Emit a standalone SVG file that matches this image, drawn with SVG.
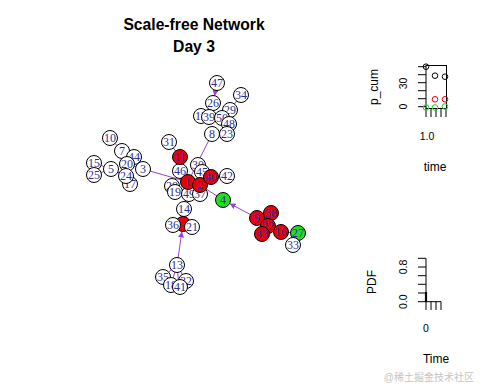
<svg xmlns="http://www.w3.org/2000/svg" width="480" height="384" viewBox="0 0 480 384">
<style>
.t{font-family:"Liberation Sans",Arial,sans-serif;fill:#000}
.ttl{font-weight:bold;font-size:15.7px;text-anchor:middle}
.ax{font-size:12px;text-anchor:middle}
.tk{font-size:10.5px;text-anchor:middle}
.e{stroke:#9b3fd6;stroke-width:1;fill:none}
.n circle{stroke:#000;stroke-width:1}
.w{fill:#fff}
.r{fill:#e8000b}
.g{fill:#22dd22}
.lb{font-family:"Liberation Serif","Times New Roman",serif;font-size:12px;fill:#2f2f9a;text-anchor:middle;dominant-baseline:central}
.k{stroke:#000;stroke-width:1;fill:none}
</style>
<defs>
<marker id="arr" markerUnits="userSpaceOnUse" markerWidth="8" markerHeight="8" refX="6" refY="3" orient="auto">
<path d="M0,0 L6,3 L0,6 z" fill="#9b3fd6"/>
</marker>
</defs>
<rect width="480" height="384" fill="#fff"/>
<text class="t ttl" x="194" y="29.5">Scale-free Network</text>
<text class="t ttl" x="194" y="51.5">Day 3</text>

<g id="edges">
<line class="e" x1="215.5" y1="90.4" x2="214.5" y2="96" marker-end="url(#arr)"/>
<line class="e" x1="241" y1="95" x2="230" y2="110"/>
<line class="e" x1="212" y1="134" x2="188" y2="182"/>
<line class="e" x1="169" y1="142" x2="180" y2="157"/>
<line class="e" x1="143" y1="169" x2="188" y2="182"/>
<line class="e" x1="110" y1="138" x2="122" y2="151"/>
<line class="e" x1="94" y1="163" x2="111" y2="169"/>
<line class="e" x1="94" y1="175" x2="111" y2="169"/>
<line class="e" x1="111" y1="169" x2="126" y2="176"/>
<line class="e" x1="127" y1="164" x2="143" y2="169"/>
<line class="e" x1="200" y1="185" x2="223" y2="200"/>
<line class="e" x1="250.4" y1="214.5" x2="229.6" y2="203.5" marker-end="url(#arr)"/>
<line class="e" x1="298" y1="233" x2="293" y2="245"/>
<line class="e" x1="281" y1="232" x2="298" y2="233"/>
<line class="e" x1="178.1" y1="257.6" x2="181.9" y2="231.4" marker-end="url(#arr)"/>
<line class="e" x1="184" y1="209" x2="183" y2="224"/>
<line class="e" x1="163" y1="277" x2="177" y2="265"/>
<line class="e" x1="186" y1="281" x2="177" y2="265"/>
<line class="e" x1="171" y1="285" x2="177" y2="265"/>
<line class="e" x1="179" y1="287" x2="177" y2="265"/>
<line class="e" x1="212" y1="134" x2="227" y2="134"/>
<line class="e" x1="227" y1="176" x2="211" y2="177"/>
</g>

<g id="node47" class="n"><circle class="w" cx="217" cy="83" r="7.5"/><text class="lb" x="217" y="83">47</text></g>
<g id="node26" class="n"><circle class="w" cx="213" cy="103" r="7.5"/><text class="lb" x="213" y="103">26</text></g>
<g id="node34" class="n"><circle class="w" cx="241" cy="95" r="7.5"/><text class="lb" x="241" y="95">34</text></g>
<g id="node29" class="n"><circle class="w" cx="230" cy="110" r="7.5"/><text class="lb" x="230" y="110">29</text></g>
<g id="node12" class="n"><circle class="w" cx="201" cy="116" r="7.5"/><text class="lb" x="201" y="116">12</text></g>
<g id="node39" class="n"><circle class="w" cx="209" cy="117" r="7.5"/><text class="lb" x="209" y="117">39</text></g>
<g id="node50" class="n"><circle class="w" cx="222" cy="118" r="7.5"/><text class="lb" x="222" y="118">50</text></g>
<g id="node48" class="n"><circle class="w" cx="229" cy="124" r="7.5"/><text class="lb" x="229" y="124">48</text></g>
<g id="node8" class="n"><circle class="w" cx="212" cy="134" r="7.5"/><text class="lb" x="212" y="134">8</text></g>
<g id="node23" class="n"><circle class="w" cx="227" cy="134" r="7.5"/><text class="lb" x="227" y="134">23</text></g>

<g id="node10" class="n"><circle class="w" cx="110" cy="138" r="7.5"/><text class="lb" x="110" y="138">10</text></g>
<g id="node7" class="n"><circle class="w" cx="122" cy="151" r="7.5"/><text class="lb" x="122" y="151">7</text></g>
<g id="node44" class="n"><circle class="w" cx="134" cy="157" r="7.5"/><text class="lb" x="134" y="157">44</text></g>
<g id="node15" class="n"><circle class="w" cx="94" cy="163" r="7.5"/><text class="lb" x="94" y="163">15</text></g>
<g id="node25" class="n"><circle class="w" cx="94" cy="175" r="7.5"/><text class="lb" x="94" y="175">25</text></g>
<g id="node5" class="n"><circle class="w" cx="111" cy="169" r="7.5"/><text class="lb" x="111" y="169">5</text></g>
<g id="node20" class="n"><circle class="w" cx="127" cy="164" r="7.5"/><text class="lb" x="127" y="164">20</text></g>
<g id="node3" class="n"><circle class="w" cx="143" cy="169" r="7.5"/><text class="lb" x="143" y="169">3</text></g>
<g id="node17" class="n"><circle class="w" cx="130" cy="184" r="7.5"/><text class="lb" x="130" y="184">17</text></g>
<g id="node24" class="n"><circle class="w" cx="126" cy="176" r="7.5"/><text class="lb" x="126" y="176">24</text></g>

<g id="node31" class="n"><circle class="w" cx="169" cy="142" r="7.5"/><text class="lb" x="169" y="142">31</text></g>
<g id="node46" class="n"><circle class="w" cx="180" cy="171" r="7.5"/><text class="lb" x="180" y="171">46</text></g>
<g id="node30" class="n"><circle class="w" cx="198" cy="165" r="7.5"/><text class="lb" x="198" y="165">30</text></g>
<g id="node45" class="n"><circle class="w" cx="202" cy="172" r="7.5"/><text class="lb" x="202" y="172">45</text></g>
<g id="node11" class="n"><circle class="r" cx="180" cy="157" r="7.5"/><text class="lb" x="180" y="157">11</text></g>
<g id="node42" class="n"><circle class="w" cx="227" cy="176" r="7.5"/><text class="lb" x="227" y="176">42</text></g>
<g id="node28" class="n"><circle class="w" cx="172" cy="186" r="7.5"/><text class="lb" x="172" y="186">28</text></g>
<g id="node19" class="n"><circle class="w" cx="175" cy="192" r="7.5"/><text class="lb" x="175" y="192">19</text></g>
<g id="node49" class="n"><circle class="w" cx="189" cy="194" r="7.5"/><text class="lb" x="189" y="194">49</text></g>
<g id="node37" class="n"><circle class="w" cx="200" cy="194" r="7.5"/><text class="lb" x="200" y="194">37</text></g>
<g id="node1" class="n"><circle class="r" cx="188" cy="182" r="7.5"/><text class="lb" x="188" y="182">1</text></g>
<g id="node2" class="n"><circle class="r" cx="200" cy="185" r="7.5"/><text class="lb" x="200" y="185">2</text></g>
<g id="node40" class="n"><circle class="r" cx="211" cy="177" r="7.5"/><text class="lb" x="211" y="177">40</text></g>
<g id="node14" class="n"><circle class="w" cx="184" cy="209" r="7.5"/><text class="lb" x="184" y="209">14</text></g>

<g id="node4" class="n"><circle class="g" cx="223" cy="200" r="7.5"/><text class="lb" x="223" y="200">4</text></g>

<g id="node6" class="n"><circle class="r" cx="183" cy="224" r="7.5"/></g>
<g id="node36" class="n"><circle class="w" cx="173" cy="225" r="7.5"/><text class="lb" x="173" y="225">36</text></g>
<g id="node21" class="n"><circle class="w" cx="192" cy="227" r="7.5"/><text class="lb" x="192" y="227">21</text></g>

<g id="node13" class="n"><circle class="w" cx="177" cy="265" r="7.5"/><text class="lb" x="177" y="265">13</text></g>
<g id="node35" class="n"><circle class="w" cx="163" cy="277" r="7.5"/><text class="lb" x="163" y="277">35</text></g>
<g id="node32" class="n"><circle class="w" cx="186" cy="281" r="7.5"/><text class="lb" x="186" y="281">32</text></g>
<g id="node18" class="n"><circle class="w" cx="171" cy="285" r="7.5"/><text class="lb" x="171" y="285">18</text></g>
<g id="node41" class="n"><circle class="w" cx="180" cy="287" r="7.5"/><text class="lb" x="180" y="287">41</text></g>

<g id="node9" class="n"><circle class="r" cx="257" cy="218" r="7.5"/><text class="lb" x="257" y="218">9</text></g>
<g id="node38" class="n"><circle class="r" cx="271" cy="213" r="7.5"/><text class="lb" x="271" y="213">38</text></g>
<g id="node22" class="n"><circle class="r" cx="268" cy="226" r="7.5"/><text class="lb" x="268" y="226">22</text></g>
<g id="node43" class="n"><circle class="r" cx="262" cy="234" r="7.5"/><text class="lb" x="262" y="234">43</text></g>
<g id="node16" class="n"><circle class="r" cx="281" cy="232" r="7.5"/><text class="lb" x="281" y="232">16</text></g>
<g id="node27" class="n"><circle class="g" cx="298" cy="233" r="7.5"/><text class="lb" x="298" y="233">27</text></g>
<g id="node33" class="n"><circle class="w" cx="293" cy="245" r="7.5"/><text class="lb" x="293" y="245">33</text></g>

<g id="plot-pcum">
<rect class="k" x="426" y="65.5" width="20.5" height="43"/>
<path class="k" d="M426,66.7 H418 M426,74.7 H418 M426,82.7 H418 M426,90.7 H418 M426,98.7 H418 M426,106.7 H418"/>
<path class="k" d="M426,108.5 V117 M431,108.5 V117 M436,108.5 V117 M441,108.5 V117 M446,108.5 V117"/>
<text class="t tk" transform="translate(407,106.7) rotate(-90)">0</text>
<text class="t tk" transform="translate(407,83.5) rotate(-90)">30</text>
<text class="t ax" transform="translate(378,87) rotate(-90)">p_cum</text>
<text class="t tk" x="427" y="140">1.0</text>
<text class="t ax" x="435" y="171">time</text>
<g fill="none" stroke-width="1">
<circle cx="426" cy="66.7" r="2.8" stroke="#000"/>
<circle cx="435" cy="75.7" r="2.8" stroke="#000"/>
<circle cx="445" cy="76.7" r="2.8" stroke="#000"/>
<circle cx="435" cy="99.3" r="2.8" stroke="#e00"/>
<circle cx="445" cy="99.3" r="2.8" stroke="#e00"/>
<circle cx="426" cy="107.5" r="2.8" stroke="#2c2"/>
<circle cx="435" cy="107.5" r="2.8" stroke="#2c2"/>
<circle cx="445" cy="106.5" r="2.8" stroke="#2c2"/>
</g>
</g>

<g id="plot-pdf">
<path class="k" d="M426,258.3 V301.7 H441"/>
<path class="k" d="M426,258.3 H418 M426,267 H418 M426,275.7 H418 M426,284.3 H418 M426,293 H418 M426,301.7 H418"/>
<path class="k" d="M426,301.7 V310 M431,301.7 V310 M436,301.7 V310 M441,301.7 V310"/>
<line x1="426" y1="292" x2="426" y2="302" stroke="#000" stroke-width="2.2"/>
<text class="t tk" transform="translate(407,301.7) rotate(-90)">0.0</text>
<text class="t tk" transform="translate(407,267) rotate(-90)">0.8</text>
<text class="t ax" transform="translate(376,282) rotate(-90)">PDF</text>
<text class="t tk" x="426" y="332">0</text>
<text class="t ax" x="436" y="363">Time</text>
</g>

<text x="474" y="381" text-anchor="end" font-family="'Liberation Sans','Noto Sans CJK SC',sans-serif" font-size="10px" fill="#c4c4c4">@稀土掘金技术社区</text>
</svg>
